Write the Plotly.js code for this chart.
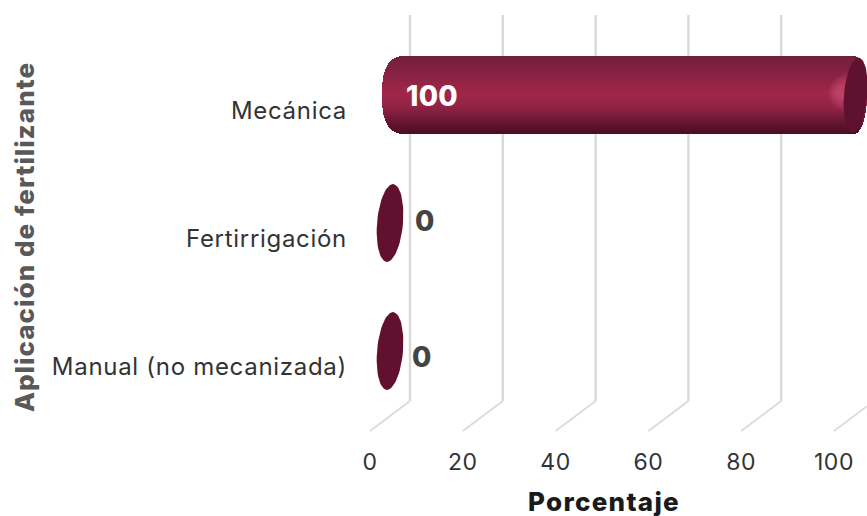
<!DOCTYPE html>
<html><head><meta charset="utf-8">
<script src="https://cdn.plot.ly/plotly-3.0.1.min.js"></script>
<style>html,body{margin:0;padding:0;background:#fff}
.ytick text{letter-spacing:.7px}
.xtick text{letter-spacing:.6px}
.xtitle{letter-spacing:1.3px}
.ytitle{letter-spacing:1.05px}
.annotation-text{letter-spacing:.3px}
.g-xtitle{transform:translateY(3px)}
.g-ytitle{transform:translateX(5px)}
</style></head>
<body><div id="chart" style="width:867px;height:516px"></div>
<script>
const categories = ["Manual (no mecanizada)", "Fertirrigación", "Mecánica"];
const values = [0, 0, 100];
const xTicks = [0, 20, 40, 60, 80, 100];
const xTitle = "Porcentaje";
const yTitle = "Aplicación de fertilizante";
const shadeStops = [[0,"#70203a"],[0.12,"#7e2040"],[0.3,"#8e2344"],[0.48,"#a12649"],[0.66,"#902345"],[0.84,"#6a1733"],[1,"#4a0d24"]];

const W=867,H=516, L=341,R=0,T=10,B=52;
const pxX=4.64, pxY=128, x0Px=370, y0Px=366;
const xRange=[(L-x0Px)/pxX,(W-R-x0Px)/pxX];
const yRange=[(y0Px-(H-B))/pxY,(y0Px-T)/pxY];
const dX=40/pxX, floorFront=-65/pxY, floorBack=-35/pxY, wallTop=351/pxY;
const barDX=dX/2, barDY=15/pxY, halfH=38.5/pxY, capA=13/pxX, tilt=3/pxX;
const leftRound=23/pxX, leftEdge=8/pxX;
const idx=categories.map((_,i)=>i);

function hex(c){return [1,3,5].map(i=>parseInt(c.substr(i,2),16));}
function shade(f){
  for(let i=1;i<shadeStops.length;i++){
    if(f<=shadeStops[i][0]){
      const [a,ca]=shadeStops[i-1],[b,cb]=shadeStops[i];
      const u=(f-a)/(b-a),p=hex(ca),q=hex(cb);
      return `rgb(${p.map((v,k)=>Math.round(v+(q[k]-v)*u)).join(",")})`;
    }
  }
  return shadeStops[shadeStops.length-1][1];
}
const traces=[];
const N=77;
for(let i=0;i<N;i++){
  const f0=i/N, tc=Math.abs(1-2*(i+0.5)/N);
  const left=leftRound*(1-Math.pow(1-Math.pow(tc,2.6),1/2.6))-leftEdge;
  const right=capA*Math.sqrt(Math.max(0,1-tc*tc));
  traces.push({type:"bar",orientation:"h",y:idx,
    x:values.map(v=>v>0?v+right-left:0),
    base:values.map(()=>barDX+left),
    offset:barDY+halfH-2*halfH*(i+1)/N, width:2*halfH/N*1.05,
    marker:{color:shade(f0),line:{width:0}},hoverinfo:"skip",showlegend:false});
}
function ellipse(v,k,a,hy,color,op,cy){
  const xs=[],ys=[];
  for(let d=0;d<=72;d++){const t=d/72*2*Math.PI;
    xs.push(v+barDX+a*Math.cos(t)+tilt*(hy/halfH)*Math.sin(t));
    ys.push(k+barDY+(cy||0)+hy*Math.sin(t));}
  return {type:"scatter",mode:"lines",x:xs,y:ys,fill:"toself",fillcolor:color,opacity:op,line:{width:0,color:color},hoverinfo:"skip",showlegend:false};
}
values.forEach((v,k)=>{
  if(v>0){
    for(let g=0;g<9;g++){
      traces.push(ellipse(v,k,(26-g)/pxX,(21-g*1.5)/pxY,"#dc6a92",0.07,3/pxY));
    }
    traces.push(ellipse(v+0.35,k,capA*0.9,halfH*0.97,"#5e1230",1));
  } else {
    traces.push(ellipse(v,k,13/pxX,halfH*1.01,"#621030",1));
  }
});
const shapes=[];
xTicks.forEach(v=>{
  shapes.push({type:"line",layer:"below",xref:"x",yref:"y",x0:v,y0:floorFront,x1:v+dX,y1:floorBack,line:{color:"#dadada",width:1.7}});
  shapes.push({type:"line",layer:"below",xref:"x",yref:"y",x0:v+dX,y0:floorBack,x1:v+dX,y1:wallTop,line:{color:"#d9d9d9",width:2.4}});
});
const annotations=values.map((v,k)=>({
  xref:"x",yref:"y",x:0,y:k,showarrow:false,text:String(v),
  xshift:v>0?62:[52,55,0][k],yshift:v>0?14:[9,17,0][k],
  font:{family:"Inter, sans-serif",size:28,weight:800,color:v>0?"#ffffff":"#444444"}
}));
const layout={width:W,height:H,margin:{l:L,r:R,t:T,b:B},paper_bgcolor:"#fff",plot_bgcolor:"rgba(0,0,0,0)",
  showlegend:false,barmode:"overlay",bargap:0,shapes,annotations,
  font:{family:"Inter, sans-serif",color:"#333"},
  xaxis:{range:xRange,tickvals:xTicks,ticktext:xTicks.map(String),showgrid:false,zeroline:false,showline:false,ticks:"",
    ticklabelstandoff:-18,tickfont:{size:23,color:"#333"},
    title:{text:xTitle,standoff:14,font:{size:26,weight:800,color:"#1a1a1a"}},automargin:false},
  yaxis:{range:yRange,tickvals:idx.map(i=>i-1/pxY),ticktext:categories,showgrid:false,zeroline:false,showline:false,ticks:"",
    ticklabelstandoff:-7,tickfont:{size:24,color:"#333"},
    title:{text:yTitle,standoff:14,font:{size:26,weight:800,color:"#595959"}},automargin:false}
};
Plotly.newPlot("chart",traces,layout,{displayModeBar:false,responsive:false});
</script></body></html>
